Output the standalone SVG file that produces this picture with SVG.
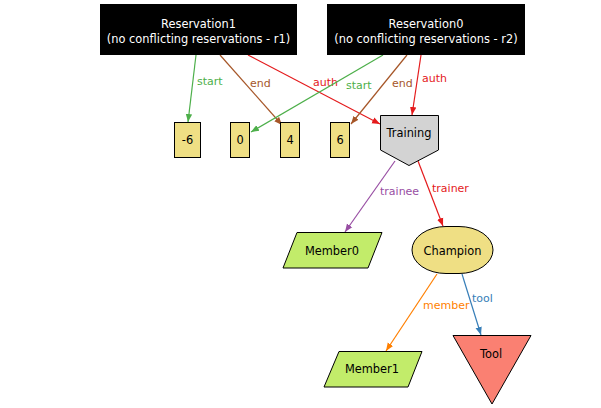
<svg xmlns="http://www.w3.org/2000/svg" width="601" height="408" viewBox="0 0 601 408">
<defs>
<style>
text{font-family:"DejaVu Sans",Verdana,sans-serif;font-size:11px}
.nt{text-anchor:middle;fill:#000;font-size:11.4px}
.wt{text-anchor:middle;fill:#fff;font-size:11.4px}
.e{fill:none;stroke-width:1.2}
.num{fill:#efdf84;stroke:#000;stroke-width:1}
.mem{fill:#c2ec6a;stroke:#000;stroke-width:1}
</style>
<marker id="mg" viewBox="0 0 10 10" refX="10" refY="5" markerWidth="8" markerHeight="8" markerUnits="userSpaceOnUse" orient="auto"><path d="M0,1 L10,5 L0,9 z" fill="#4daf4a"/></marker>
<marker id="mb" viewBox="0 0 10 10" refX="10" refY="5" markerWidth="8" markerHeight="8" markerUnits="userSpaceOnUse" orient="auto"><path d="M0,1 L10,5 L0,9 z" fill="#a65628"/></marker>
<marker id="mr" viewBox="0 0 10 10" refX="10" refY="5" markerWidth="8" markerHeight="8" markerUnits="userSpaceOnUse" orient="auto"><path d="M0,1 L10,5 L0,9 z" fill="#e41a1c"/></marker>
<marker id="mp" viewBox="0 0 10 10" refX="10" refY="5" markerWidth="8" markerHeight="8" markerUnits="userSpaceOnUse" orient="auto"><path d="M0,1 L10,5 L0,9 z" fill="#984ea3"/></marker>
<marker id="mo" viewBox="0 0 10 10" refX="10" refY="5" markerWidth="8" markerHeight="8" markerUnits="userSpaceOnUse" orient="auto"><path d="M0,1 L10,5 L0,9 z" fill="#ff7f00"/></marker>
<marker id="mu" viewBox="0 0 10 10" refX="10" refY="5" markerWidth="8" markerHeight="8" markerUnits="userSpaceOnUse" orient="auto"><path d="M0,1 L10,5 L0,9 z" fill="#377eb8"/></marker>
</defs>
<rect width="601" height="408" fill="#fff"/>
<g id="connectors">
<line class="e" x1="196" y1="55" x2="188" y2="122" stroke="#4daf4a" marker-end="url(#mg)"/>
<text x="197" y="85" fill="#4daf4a">start</text>
<line class="e" x1="220" y1="55" x2="282" y2="125" stroke="#a65628" marker-end="url(#mb)"/>
<text x="250" y="87" fill="#a65628">end</text>
<line class="e" x1="248" y1="55" x2="380" y2="124" stroke="#e41a1c" marker-end="url(#mr)"/>
<text x="313" y="86" fill="#e41a1c">auth</text>
<line class="e" x1="383" y1="55" x2="251" y2="132" stroke="#4daf4a" marker-end="url(#mg)"/>
<text x="346" y="89" fill="#4daf4a">start</text>
<line class="e" x1="407" y1="55" x2="351" y2="124" stroke="#a65628" marker-end="url(#mb)"/>
<text x="392" y="87" fill="#a65628">end</text>
<line class="e" x1="421" y1="55" x2="412" y2="115" stroke="#e41a1c" marker-end="url(#mr)"/>
<text x="422" y="82" fill="#e41a1c">auth</text>
<line class="e" x1="395" y1="161" x2="345" y2="232" stroke="#984ea3" marker-end="url(#mp)"/>
<text x="380" y="195" fill="#984ea3">trainee</text>
<line class="e" x1="418" y1="161" x2="443" y2="226" stroke="#e41a1c" marker-end="url(#mr)"/>
<text x="432" y="192" fill="#e41a1c">trainer</text>
<line class="e" x1="437" y1="274" x2="386" y2="351" stroke="#ff7f00" marker-end="url(#mo)"/>
<text x="423" y="309" fill="#ff7f00">member</text>
<line class="e" x1="462" y1="274" x2="481" y2="335" stroke="#377eb8" marker-end="url(#mu)"/>
<text x="472" y="302" fill="#377eb8">tool</text>
</g>
<g id="Reservation1">
<rect x="100" y="4" width="197" height="51" fill="#000"/>
<text class="wt" x="198.5" y="28">Reservation1</text>
<text class="wt" x="198.5" y="43">(no conflicting reservations - r1)</text>
</g>
<g id="Reservation0">
<rect x="327" y="4" width="198" height="51" fill="#000"/>
<text class="wt" x="426" y="28">Reservation0</text>
<text class="wt" x="426" y="43">(no conflicting reservations - r2)</text>
</g>
<g id="n-6"><rect class="num" x="174.5" y="122.5" width="26" height="35"/><text class="nt" x="187.5" y="144">-6</text></g>
<g id="n0"><rect class="num" x="230.5" y="122.5" width="19" height="35"/><text class="nt" x="240" y="144">0</text></g>
<g id="n4"><rect class="num" x="280.5" y="122.5" width="19" height="35"/><text class="nt" x="290" y="144">4</text></g>
<g id="n6"><rect class="num" x="330.5" y="122.5" width="19" height="35"/><text class="nt" x="340" y="144">6</text></g>
<g id="Training">
<path d="M380.5,115.5 H438.5 V150 L409,165.5 L380.5,150 Z" fill="#d3d3d3" stroke="#000"/>
<text class="nt" x="409" y="137">Training</text>
</g>
<g id="Member0">
<path d="M297,232.5 H382 L368,268 H283 Z" class="mem"/>
<text class="nt" x="332" y="255">Member0</text>
</g>
<g id="Champion">
<rect x="412" y="226.5" width="81" height="47" rx="34" ry="23.5" fill="#efdf84" stroke="#000"/>
<text class="nt" x="452.5" y="255">Champion</text>
</g>
<g id="Member1">
<path d="M339,351.5 H422 L408,387 H324 Z" class="mem"/>
<text class="nt" x="372" y="373">Member1</text>
</g>
<g id="Tool">
<path d="M453,335.5 H531 L492,404 Z" fill="#fa8072" stroke="#000"/>
<text class="nt" x="491" y="358">Tool</text>
</g>
</svg>
